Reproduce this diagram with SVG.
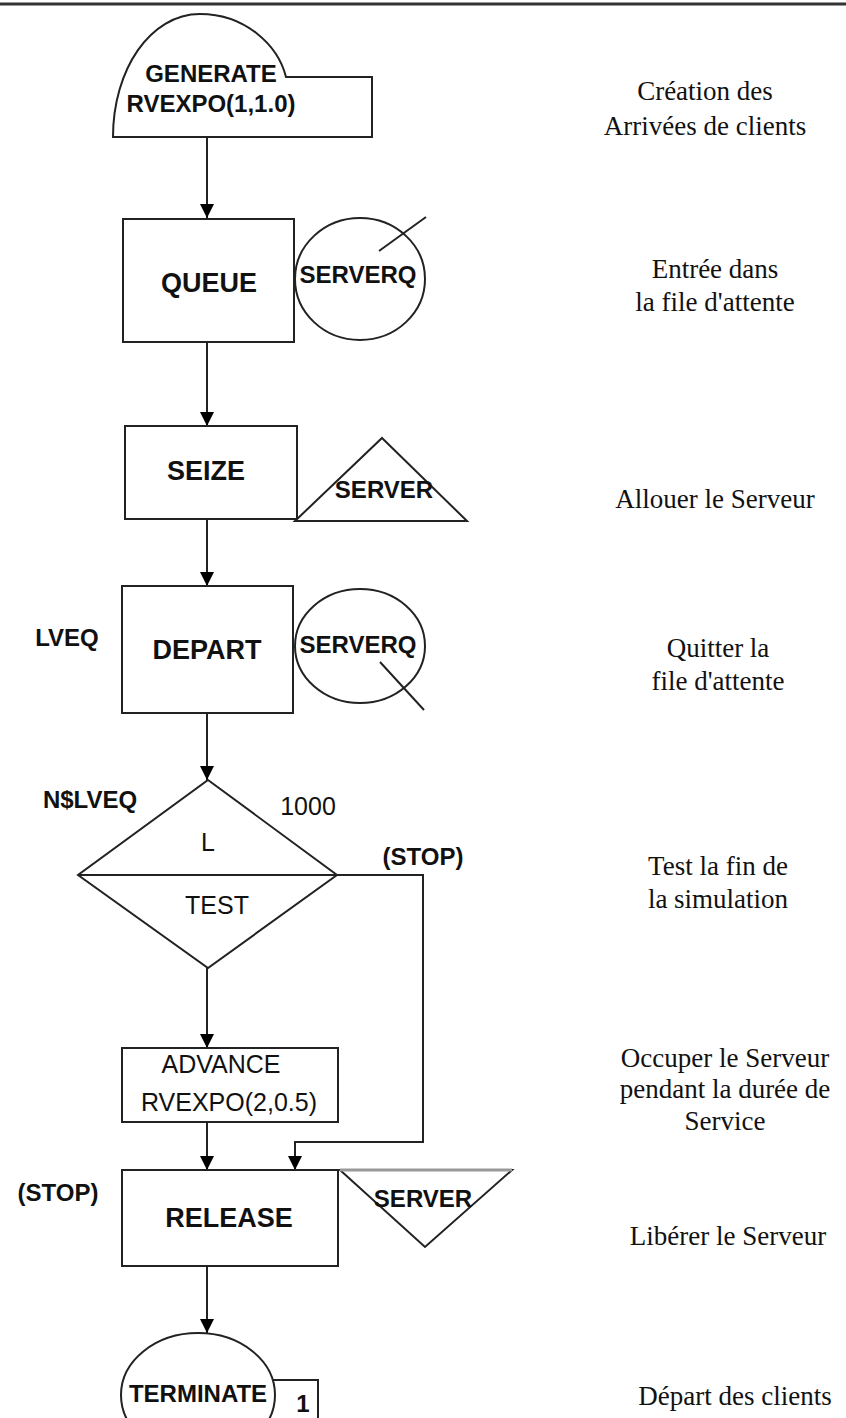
<svg xmlns="http://www.w3.org/2000/svg" width="846" height="1418" viewBox="0 0 846 1418">
<defs>
<marker id="ah" viewBox="0 0 10 10" refX="10" refY="5" markerWidth="14" markerHeight="14" markerUnits="userSpaceOnUse" orient="auto">
<path d="M0,0 L10,5 L0,10 z" fill="#000"/>
</marker>
<style>
.s{fill:#fff;stroke:#222;stroke-width:2}
.t{font-family:"Liberation Sans",Arial,sans-serif;font-weight:bold;font-size:24px;fill:#111;text-anchor:middle}
.b{font-family:"Liberation Sans",Arial,sans-serif;font-weight:bold;font-size:27px;fill:#111;text-anchor:middle}
.r{font-family:"Liberation Sans",Arial,sans-serif;font-size:25px;fill:#111;text-anchor:middle}
.c{font-family:"Liberation Serif","Times New Roman",serif;font-size:27px;fill:#111;text-anchor:middle}
.ln{fill:none;stroke:#222;stroke-width:2}
</style>
</defs>
<rect width="846" height="1418" fill="#fff"/>
<line x1="0" y1="4" x2="846" y2="4" stroke="#333" stroke-width="3"/>

<g id="connectors" class="ln">
<line x1="207" y1="137" x2="207" y2="218" marker-end="url(#ah)"/>
<line x1="207" y1="342" x2="207" y2="426" marker-end="url(#ah)"/>
<line x1="207" y1="519" x2="207" y2="586" marker-end="url(#ah)"/>
<line x1="207" y1="713" x2="207" y2="780" marker-end="url(#ah)"/>
<line x1="207" y1="968" x2="207" y2="1048" marker-end="url(#ah)"/>
<line x1="207" y1="1122" x2="207" y2="1170" marker-end="url(#ah)"/>
<polyline points="337,875 423,875 423,1142 295,1142 295,1170" marker-end="url(#ah)"/>
<line x1="207" y1="1266" x2="207" y2="1333" marker-end="url(#ah)"/>
</g>

<g id="generate">
<path class="s" d="M113,137 C113,70 150,14 200,14 C245,14 278,45 286,77 L372,77 L372,137 Z"/>
<text class="t" x="211" y="82">GENERATE</text>
<text class="t" x="211" y="112">RVEXPO(1,1.0)</text>
</g>

<g id="queue">
<rect class="s" x="123" y="219" width="171" height="123"/>
<text class="b" x="209" y="292">QUEUE</text>
</g>
<g id="serverq1">
<ellipse class="s" cx="360" cy="279" rx="65" ry="61"/>
<line class="ln" x1="379" y1="251" x2="426" y2="217"/>
<text class="t" x="358" y="283">SERVERQ</text>
</g>

<g id="seize">
<rect class="s" x="125" y="426" width="172" height="93"/>
<text class="b" x="206" y="480">SEIZE</text>
</g>
<g id="server1">
<polygon class="s" points="382,438 467,521 295,521"/>
<text class="t" x="384" y="498">SERVER</text>
</g>

<g id="depart">
<rect class="s" x="122" y="586" width="171" height="127"/>
<text class="b" x="207" y="659">DEPART</text>
<text class="t" x="67" y="646">LVEQ</text>
</g>
<g id="serverq2">
<ellipse class="s" cx="360" cy="646" rx="65" ry="57"/>
<line class="ln" x1="380" y1="662" x2="424" y2="710"/>
<text class="t" x="358" y="653">SERVERQ</text>
</g>

<g id="test">
<polygon class="s" points="208,780 337,875 208,968 78,875"/>
<line class="ln" x1="78" y1="875" x2="337" y2="875"/>
<text class="r" x="208" y="851">L</text>
<text class="r" x="217" y="914">TEST</text>
<text class="t" x="90" y="808">N$LVEQ</text>
<text class="r" x="308" y="815">1000</text>
<text class="t" x="423" y="865">(STOP)</text>
</g>

<g id="advance">
<rect class="s" x="122" y="1048" width="216" height="74"/>
<text class="r" x="221" y="1073">ADVANCE</text>
<text class="r" x="229" y="1111">RVEXPO(2,0.5)</text>
</g>

<g id="release">
<rect class="s" x="122" y="1170" width="216" height="96"/>
<text class="b" x="229" y="1227">RELEASE</text>
<text class="t" x="58" y="1201">(STOP)</text>
</g>
<g id="server2">
<polygon class="s" points="340,1170 512,1170 425,1247"/>
<line x1="340" y1="1170" x2="512" y2="1170" stroke="#999" stroke-width="3"/>
<text class="t" x="423" y="1207">SERVER</text>
</g>

<g id="terminate">
<rect class="s" x="260" y="1380" width="58" height="50"/>
<ellipse class="s" cx="198" cy="1395" rx="77" ry="62"/>
<text class="t" x="198" y="1402">TERMINATE</text>
<text class="t" x="303" y="1412">1</text>
</g>

<g id="notes">
<text class="c" x="705" y="100">Création des</text>
<text class="c" x="705" y="135">Arrivées de clients</text>
<text class="c" x="715" y="278">Entrée dans</text>
<text class="c" x="715" y="311">la file d'attente</text>
<text class="c" x="715" y="508">Allouer le Serveur</text>
<text class="c" x="718" y="657">Quitter la</text>
<text class="c" x="718" y="690">file d'attente</text>
<text class="c" x="718" y="875">Test la fin de</text>
<text class="c" x="718" y="908">la simulation</text>
<text class="c" x="725" y="1067">Occuper le Serveur</text>
<text class="c" x="725" y="1098">pendant la durée de</text>
<text class="c" x="725" y="1130">Service</text>
<text class="c" x="728" y="1245">Libérer le Serveur</text>
<text class="c" x="735" y="1405">Départ des clients</text>
</g>
</svg>
